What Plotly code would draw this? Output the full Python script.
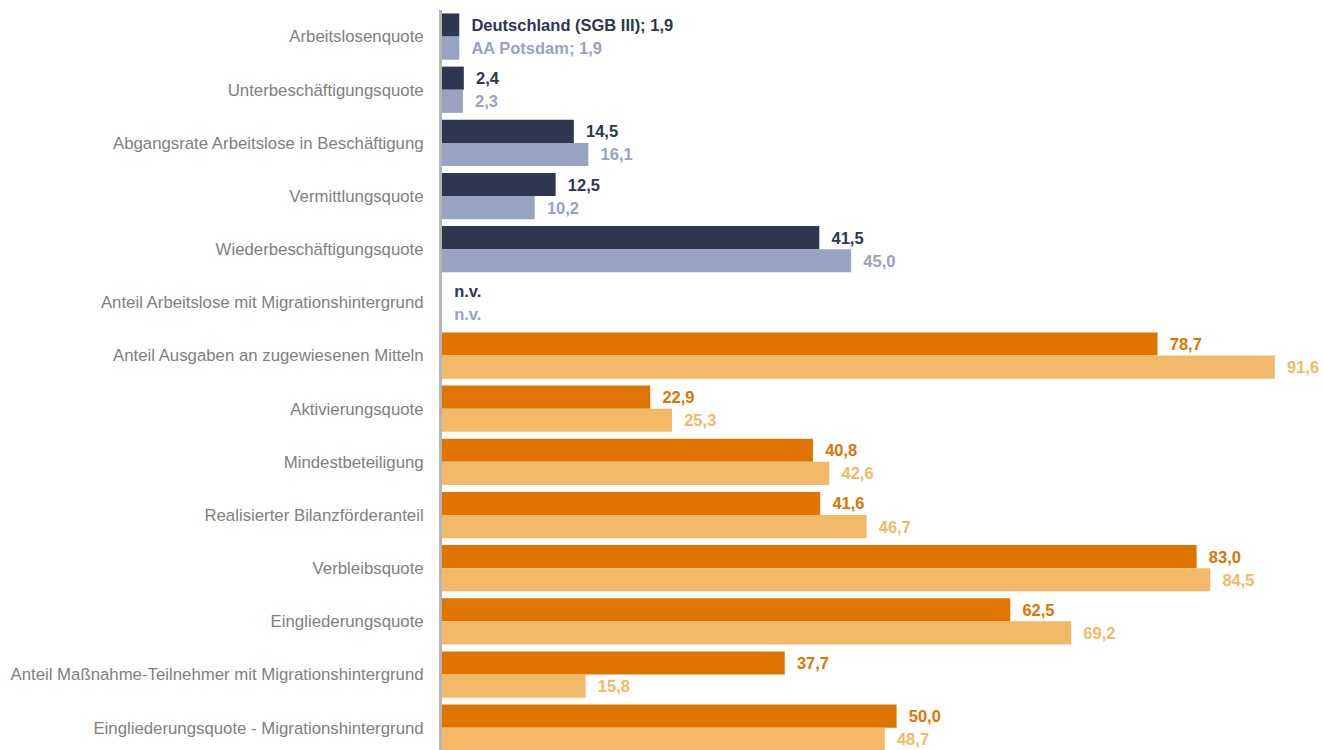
import plotly.graph_objects as go

# -- Data -------------------------------------------------------------------
categories = [
    "Arbeitslosenquote",
    "Unterbeschäftigungsquote",
    "Abgangsrate Arbeitslose in Beschäftigung",
    "Vermittlungsquote",
    "Wiederbeschäftigungsquote",
    "Anteil Arbeitslose mit Migrationshintergrund",
    "Anteil Ausgaben an zugewiesenen Mitteln",
    "Aktivierungsquote",
    "Mindestbeteiligung",
    "Realisierter Bilanzförderanteil",
    "Verbleibsquote",
    "Eingliederungsquote",
    "Anteil Maßnahme-Teilnehmer mit Migrationshintergrund",
    "Eingliederungsquote - Migrationshintergrund",
]
series_names = ["Deutschland (SGB III)", "AA Potsdam"]
deutschland = [1.9, 2.4, 14.5, 12.5, 41.5, None, 78.7, 22.9, 40.8, 41.6, 83.0, 62.5, 37.7, 50.0]
potsdam = [1.9, 2.3, 16.1, 10.2, 45.0, None, 91.6, 25.3, 42.6, 46.7, 84.5, 69.2, 15.8, 48.7]

# first 6 rows: labour market block (blue), rest: funding block (orange)
n_blue = 6
BLUE = ("#2e3650", "#97a3c0")
ORANGE = ("#e07400", "#f2ba68")

FONT = "Liberation Sans, Arial, sans-serif"
PAD = "\u00a0\u00a0"  # a little air between bar end and its label


def fmt(v):
    return "n.v." if v is None else f"{v:.1f}".replace(".", ",")


fig = go.Figure()
for k, (name, vals) in enumerate(zip(series_names, [deutschland, potsdam])):
    colors = [BLUE[k] if i < n_blue else ORANGE[k] for i in range(len(vals))]
    texts = [fmt(v) for v in vals]
    texts[0] = f"{name}; {texts[0]}"
    texts = [PAD + t for t in texts]
    fig.add_trace(go.Bar(
        y=categories, x=[0 if v is None else v for v in vals], name=name,
        orientation="h", marker=dict(color=colors, line=dict(width=0)),
        text=texts, textposition="outside", cliponaxis=False,
        textfont=dict(color=colors, size=16.5, family=FONT, weight="bold"),
        constraintext="none",
    ))

fig.update_layout(
    barmode="group", bargap=0.13, bargroupgap=0,
    showlegend=False,
    plot_bgcolor="white", paper_bgcolor="white",
    font=dict(family=FONT, size=17, color="#808080"),
    margin=dict(l=442, r=0, t=10, b=0),
    width=1323, height=750,
)
fig.update_xaxes(range=[0, 96.9], visible=False, showgrid=False, zeroline=False)
fig.update_yaxes(
    range=[13.42, -0.5], showgrid=False, zeroline=False,
    showline=True, linecolor="#b4b4b4", linewidth=3,
    ticks="outside", ticklen=12, tickcolor="rgba(0,0,0,0)",
    tickfont=dict(size=16.8, color="#808080"),
)

fig.write_html("out.html", config={"displayModeBar": False},
               post_script="document.body.style.margin='0';")
